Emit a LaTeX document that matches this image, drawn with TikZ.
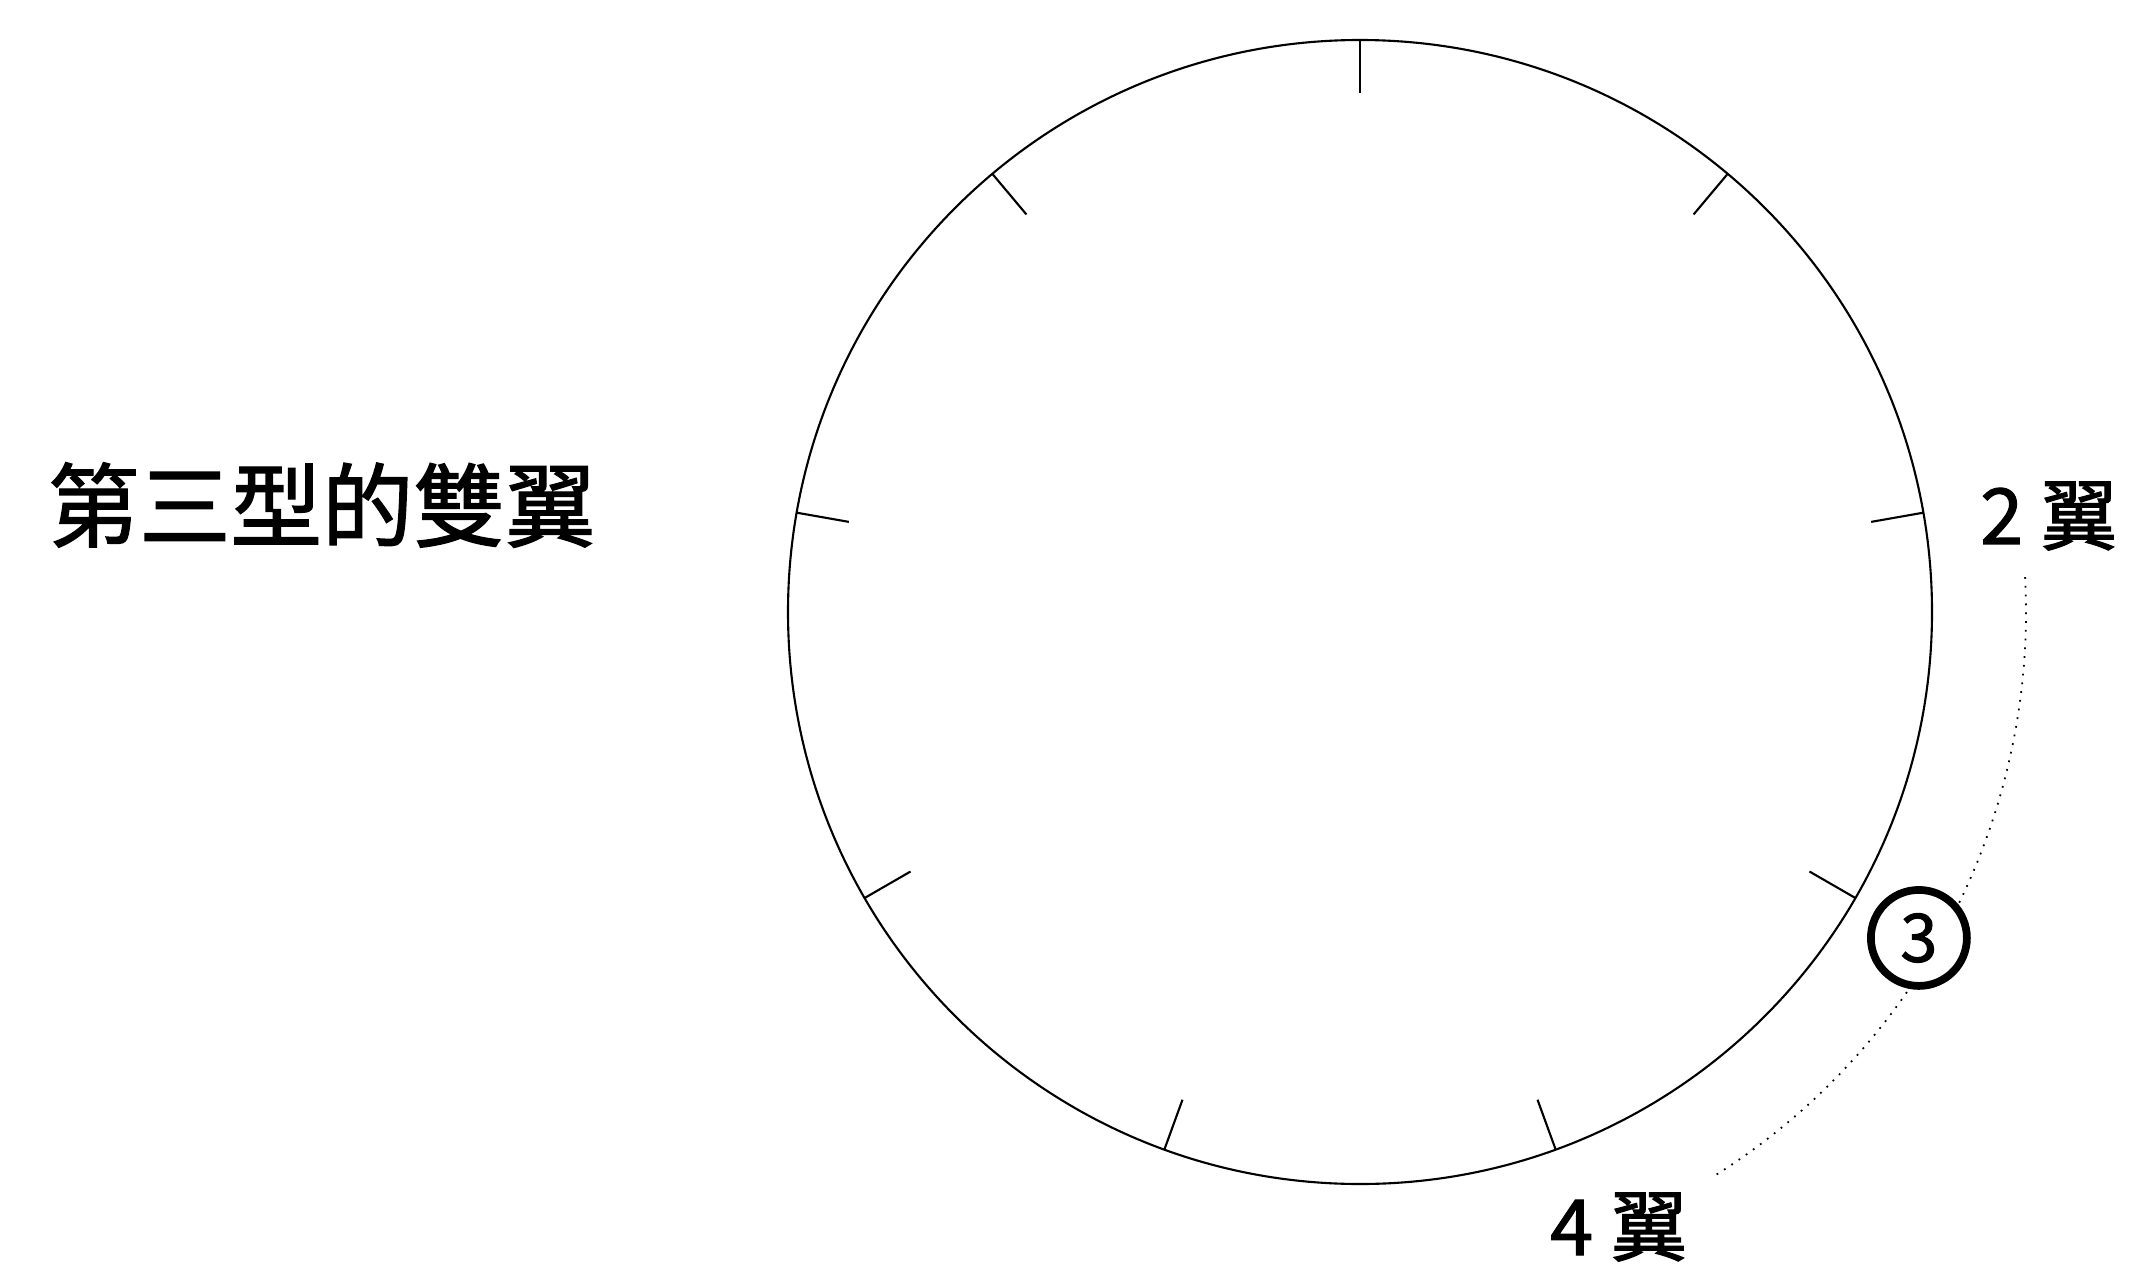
\documentclass[tikz,border=0pt]{standalone}
\usepackage{fontspec}
\usepackage{tikz}
\usetikzlibrary{positioning}
\newfontfamily\cjk[FakeBold=1.5]{Noto Sans CJK TC}

\begin{document}
\begin{tikzpicture}[
    rim/.style={line width=0.6pt},
    wing/.style={font=\cjk\fontsize{22pt}{26pt}\selectfont, inner sep=0pt}]
  \useasboundingbox (0,0) rectangle (21.33,12.63);
  \coordinate (hub) at (13.60,6.51);
  \draw[rim] (hub) circle[radius=5.72];
  \foreach \a in {10,50,...,330}
    \draw[rim] ([shift={(\a:5.72)}]hub) -- ([shift={(\a:5.19)}]hub);
  \draw[dotted, line width=0.5pt] ([shift={(3:6.66)}]hub)
    arc[start angle=3, end angle=-58, radius=6.66];
  \node[circle, draw, line width=2.2pt, fill=white, minimum size=0.96cm,
        inner sep=0pt, font=\cjk\fontsize{19pt}{22pt}\selectfont]
    (three) at ([shift={(-30.25:6.47)}]hub) {3};
  \node[font=\cjk\fontsize{26pt}{30pt}\selectfont] (title) at (3.22,7.58) {第三型的雙翼};
  \node[wing] (wingtwo) at (20.49,7.47) {2 翼};
  \node[wing] (wingfour) at (16.19,0.36) {4 翼};
\end{tikzpicture}
\end{document}
